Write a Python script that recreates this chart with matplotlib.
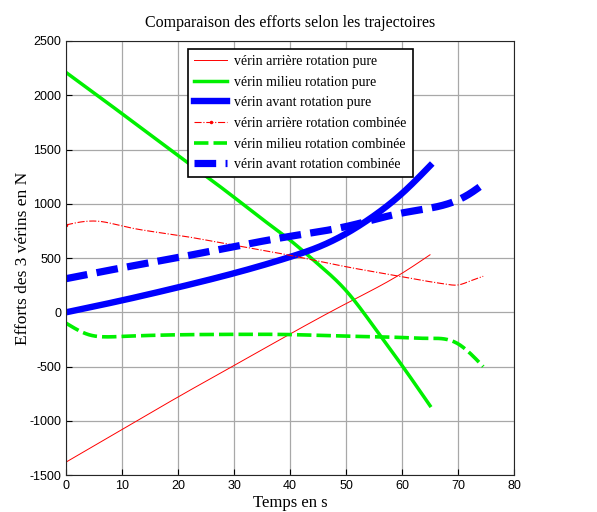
import matplotlib
matplotlib.use("Agg")
import matplotlib.pyplot as plt
import numpy as np

plt.rcParams["axes.unicode_minus"] = False

# --- data ---
t_arr_pure = [0, 10, 20, 30, 40, 50, 60, 65]
y_arr_pure = [-1380, -1080, -780, -490, -200, 80, 360, 530]

t_mil_pure = [0, 10, 20, 30, 35, 40, 45, 50, 55, 60, 65]
y_mil_pure = [2210, 1830, 1445, 1060, 860, 665, 445, 200, -135, -490, -860]

t_av_pure = [0, 10, 20, 30, 40, 45, 50, 55, 60, 65]
y_av_pure = [0, 110, 230, 360, 510, 600, 725, 890, 1095, 1350]

t_arr_comb = [0, 3, 6, 10, 20, 30, 40, 50, 60, 65, 68, 70, 72, 74.5]
y_arr_comb = [805, 835, 838, 795, 710, 618, 525, 420, 328, 282, 258, 252, 285, 332]

t_mil_comb = [0, 2, 4, 7, 10, 20, 30, 40, 50, 60, 65, 67, 70, 72, 74.5]
y_mil_comb = [-100, -160, -205, -226, -222, -207, -203, -205, -220, -232, -240, -242, -290, -370, -500]

t_av_comb = [0, 10, 20, 30, 40, 50, 60, 65, 70, 72, 74.5]
y_av_comb = [310, 410, 505, 605, 700, 790, 915, 960, 1035, 1090, 1180]

labels = ["vérin arrière rotation pure", "vérin milieu rotation pure",
          "vérin avant rotation pure", "vérin arrière rotation combinée",
          "vérin milieu rotation combinée", "vérin avant rotation combinée"]

xticks = list(range(0, 81, 10))
yticks = list(range(-1500, 2501, 500))


def spline(t, y, n=400):
    """Natural cubic spline through the read points."""
    x = np.asarray(t, float)
    v = np.asarray(y, float)
    m = len(x)
    h = np.diff(x)
    A = np.zeros((m, m))
    r = np.zeros(m)
    A[0, 0] = A[-1, -1] = 1
    for i in range(1, m - 1):
        A[i, i - 1] = h[i - 1]
        A[i, i] = 2 * (h[i - 1] + h[i])
        A[i, i + 1] = h[i]
        r[i] = 6 * ((v[i + 1] - v[i]) / h[i] - (v[i] - v[i - 1]) / h[i - 1])
    M = np.linalg.solve(A, r)
    xs = np.linspace(x[0], x[-1], n)
    idx = np.clip(np.searchsorted(x, xs) - 1, 0, m - 2)
    x0, x1 = x[idx], x[idx + 1]
    hh = x1 - x0
    a = (x1 - xs) / hh
    b = (xs - x0) / hh
    ys = (a * v[idx] + b * v[idx + 1]
          + ((a ** 3 - a) * M[idx] + (b ** 3 - b) * M[idx + 1]) * hh ** 2 / 6)
    return xs, ys


fig = plt.figure(figsize=(5.97, 5.12), dpi=100)
ax = fig.add_axes([0.1106, 0.072, 0.7504, 0.848])

serif = ["Liberation Serif", "DejaVu Serif"]

ax.plot(*spline(t_arr_pure, y_arr_pure), color="#ff0000", lw=0.7, label=labels[0])
ax.plot(*spline(t_mil_pure, y_mil_pure), color="#00f000", lw=2.5, label=labels[1])
ax.plot(*spline(t_av_pure, y_av_pure), color="#0000ff", lw=4.6, label=labels[2])
ax.plot(*spline(t_arr_comb, y_arr_comb), color="#ff0000", lw=0.8, ls="-.",
        marker=".", markersize=3, markevery=1000, label=labels[3])
ax.plot(*spline(t_mil_comb, y_mil_comb), color="#00f000", lw=2.6, ls=(0, (4, 1.4)),
        label=labels[4])
ax.plot(*spline(t_av_comb, y_av_comb), color="#0000ff", lw=5.2, ls=(0, (3.0, 1.3)),
        label=labels[5])

ax.set_xlim(0, 80)
ax.set_ylim(-1500, 2500)
ax.set_xticks(xticks)
ax.set_yticks(yticks)
ax.grid(True, color="#a8a8a8", lw=0.9, ls="-")
ax.set_axisbelow(True)
ax.tick_params(direction="in", length=4, labelsize=9)
for lab in ax.get_xticklabels() + ax.get_yticklabels():
    lab.set_family(["Liberation Sans", "DejaVu Sans"])
for s in ax.spines.values():
    s.set_color("#262626")
    s.set_linewidth(0.8)

ax.set_title("Comparaison des efforts selon les trajectoires", family=serif,
             fontsize=11.5, pad=10)
ax.set_xlabel("Temps en s", family=serif, fontsize=12, labelpad=2)
ax.set_ylabel("Efforts des 3 vérins en N", family=serif, fontsize=12.5, labelpad=-1)

leg = ax.legend(loc="upper left", bbox_to_anchor=(0.272, 0.982),
                prop={"family": serif, "size": 10}, fancybox=False,
                framealpha=1, edgecolor="black", handlelength=2.4,
                borderpad=0.45, labelspacing=0.55, handletextpad=0.5,
                borderaxespad=0)
leg.get_frame().set_linewidth(1.2)

fig.savefig("out.png", dpi=100)
